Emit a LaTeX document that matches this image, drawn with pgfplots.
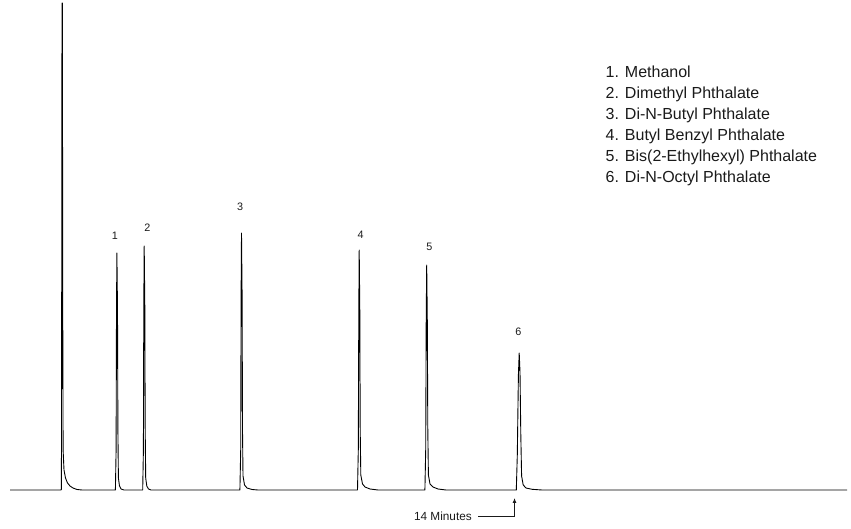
\documentclass[border=0pt]{standalone}
\usepackage{fontspec}
\setmainfont{Liberation Sans}
\usepackage{pgfplots}
\pgfplotsset{compat=1.18}
\usetikzlibrary{arrows.meta}
\definecolor{ink}{HTML}{1A1A1A}
\begin{document}
\begin{tikzpicture}
\begin{axis}[
  width=851bp, height=529bp, scale only axis,
  xmin=0, xmax=851, ymin=-39, ymax=490,
  hide axis, clip=false,
]
\path (rel axis cs:0,0) rectangle (rel axis cs:1,1);
\addplot[black, line width=0.9pt, line join=round] coordinates {
(10,0)
(60.8,0)(61.4,0.5)(61.7,200)(62,487)(62.4,487)(62.7,200)(63.1,40)(64,20)(65.5,12)(67.5,7)(70,4)(73,2)(77,0.5)(82,0)
(115.4,0)(116.1,40)(116.5,180)(116.9,237)(117.5,180)(117.9,60)(118.4,12)(119.5,4)(121,1)(124,0)
(142.7,0)(143.4,40)(143.8,185)(144.2,244)(144.8,185)(145.2,60)(145.7,12)(146.8,4)(148.5,1)(151,0)
(239.9,0)(240.7,40)(241.1,195)(241.5,257)(242.1,195)(242.5,60)(243,14)(244.5,5)(247,2)(252,0.5)(258,0)
(357.5,0)(358.3,40)(358.8,180)(359.2,240)(359.8,180)(360.2,60)(360.8,15)(362.5,6)(365,3)(370,1)(378,0)
(424.9,0)(425.7,40)(426.2,170)(426.7,225)(427.3,170)(427.8,60)(428.4,15)(430,6)(433,3)(438,1)(446,0)
(516.3,0)(517.3,35)(518.4,115)(519.2,137)(520,118)(520.8,55)(521.6,14)(523.2,5)(526,2)(532,0.7)(542,0)
(847,0)
};
% peak labels
\begin{scope}[every node/.style={anchor=base, inner sep=0pt, font=\fontsize{10.8bp}{12bp}\selectfont, text=ink}]
\node at (axis cs:115,250) {1};
\node at (axis cs:147.3,258.3) {2};
\node at (axis cs:240,279.3) {3};
\node at (axis cs:360.7,251.7) {4};
\node at (axis cs:429.3,239.3) {5};
\node at (axis cs:518.3,154) {6};
\end{scope}
% legend list
\begin{scope}[every node/.style={anchor=base west, inner sep=0pt, font=\fontsize{16bp}{19bp}\selectfont, text=ink}]
\node at (axis cs:605.5,412.7) {1. Methanol};
\node at (axis cs:605.5,391.7) {2. Dimethyl Phthalate};
\node at (axis cs:605.5,370.7) {3. Di-N-Butyl Phthalate};
\node at (axis cs:605.5,349.7) {4. Butyl Benzyl Phthalate};
\node at (axis cs:605.5,328.7) {5. Bis(2-Ethylhexyl) Phthalate};
\node at (axis cs:605.5,307.7) {6. Di-N-Octyl Phthalate};
\end{scope}
% 14 minutes marker
\draw[ink, line width=0.8pt, -{Latex[length=5pt,width=4pt]}] (axis cs:478,-26) -- (axis cs:514.5,-26) -- (axis cs:514.5,-8);
\node[anchor=east, inner sep=0pt, font=\fontsize{11.8bp}{13bp}\selectfont, text=ink] at (axis cs:472,-26) {14 Minutes};
\end{axis}
\end{tikzpicture}
\end{document}
